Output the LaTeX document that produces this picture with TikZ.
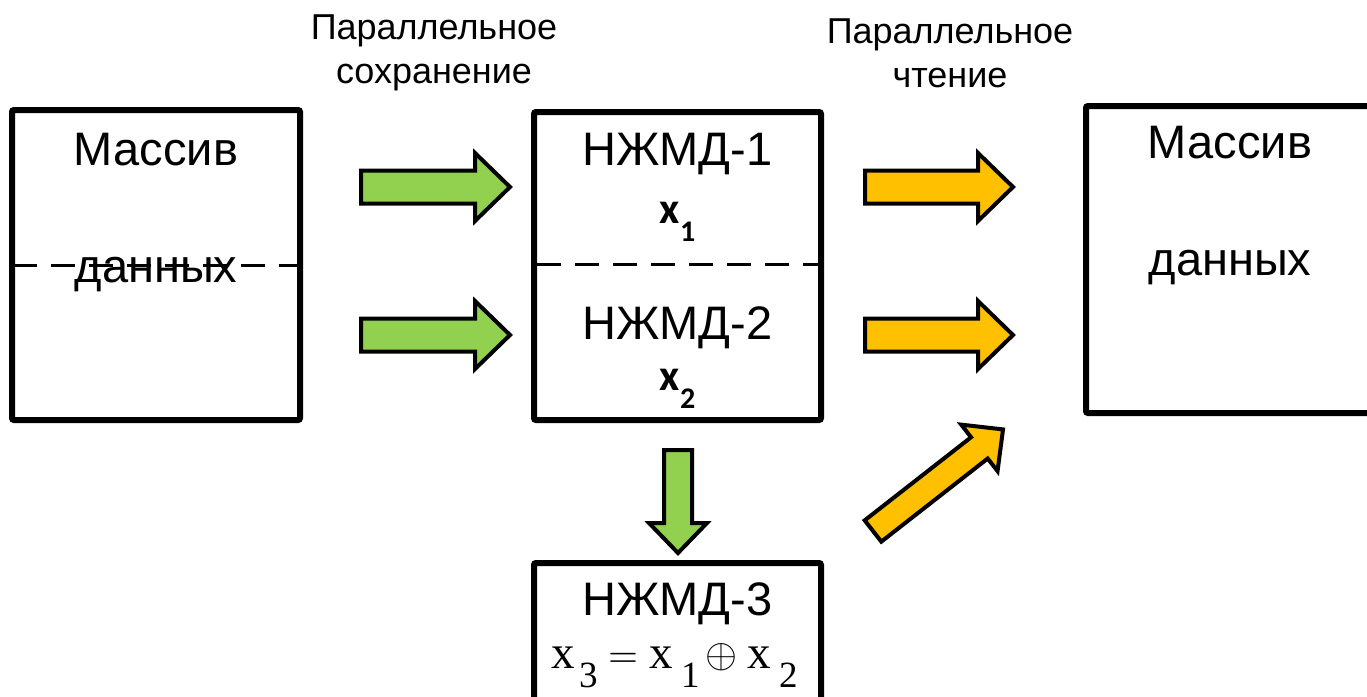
\documentclass[tikz,border=0pt]{standalone}
\usepackage{fontspec}
\usepackage{graphicx}
\setmainfont{Liberation Sans}
\newfontfamily\calib{Carlito}
\newfontfamily\tms{Liberation Serif}
\definecolor{grn}{HTML}{92D050}
\definecolor{org}{HTML}{FFC000}
\newcommand\blkarrow[8]{%
\begin{scope}[shift={(#1,#2)},rotate=#3]
\draw[arrowline,fill=#8] (0,-#5) -- ({#4-#7},-#5) -- ({#4-#7},-#6) -- (#4,0) -- ({#4-#7},#6) -- ({#4-#7},#5) -- (0,#5) -- cycle;
\end{scope}}
\tikzset{
  box/.style={draw,line width=6pt,rounded corners=2pt,inner sep=0pt},
  arrowline/.style={draw=black,line width=4pt,line join=miter},
  divline/.style={line width=3pt,dash pattern=on 24pt off 14pt},
  big/.style={font=\fontsize{47}{50}\selectfont,inner sep=0pt,anchor=base},
  small/.style={font=\fontsize{36}{44}\selectfont,inner sep=0pt,align=center},
  fm/.style={font=\tms\fontsize{47}{47}\selectfont,inner sep=0pt,anchor=base west},
  fs/.style={font=\tms\fontsize{37}{37}\selectfont,inner sep=0pt,anchor=base west},
}
\begin{document}
\begin{tikzpicture}[x=1pt,y=-1pt]
\clip (0,0) rectangle (1367,696);
\fill[white] (0,0) rectangle (1367,696);
% boxes
\node[box,minimum width=288pt,minimum height=310pt] (src) at (156,265) {};
\node[box,minimum width=287pt,minimum height=308pt] (disk) at (677.5,266) {};
\node[box,minimum width=294pt,minimum height=307pt] (dst) at (1233,259.5) {};
\node[box,minimum width=287pt,minimum height=157pt] (par) at (677.5,641.5) {};
% dashed dividers
\coordinate (sl) at (13,265);
\coordinate (sr) at (300,265);
\coordinate (dl) at (537,264);
\coordinate (dr) at (821,264);
% texts
\node[big] (t1) at (156,165) {Массив};
\node[big] (t2) at (156,282) {данных};
\draw[divline] (sl) -- (sr);
\draw[divline] (dl) -- (dr);
\node[big] (t3) at (677.5,165) {НЖМД-1};
\node[big] (t4) at (677.5,339) {НЖМД-2};
\node[inner sep=0pt,anchor=base] (x1) at (677.5,223) {\calib\bfseries\fontsize{44}{44}\selectfont x\raisebox{-18pt}{\fontsize{30}{30}\selectfont 1}};
\node[inner sep=0pt,anchor=base] (x2) at (677.5,390) {\calib\bfseries\fontsize{44}{44}\selectfont x\raisebox{-18pt}{\fontsize{30}{30}\selectfont 2}};
\node[big] (t5) at (1230,158) {Массив};
\node[big] (t6) at (1230,275) {данных};
\node[big] (t7) at (677.5,615) {НЖМД-3};
% formula
\node[fm] (f1) at (551,668) {x};
\node[fs] (f2) at (579,687) {3};
\node[inner sep=0pt] (f3) at (623,660.5) {\resizebox{30pt}{!}{$=$}};
\node[fm] (f4) at (649,668) {x};
\node[fs] (f5) at (681,687) {1};
\node[inner sep=0pt] (f6) at (721,657) {\resizebox{32pt}{!}{$\oplus$}};
\node[fm] (f7) at (747,668) {x};
\node[fs] (f8) at (779,687) {2};
\node[small] (l1) at (434,53) {Параллельное\\сохранение};
\node[small] (l2) at (950,53) {Параллельное\\чтение};
% block arrows
\blkarrow{361}{187}{0}{149}{16.5}{34}{35}{grn}
\blkarrow{361}{335}{0}{149}{16.5}{34}{35}{grn}
\blkarrow{865}{187}{0}{148}{16.5}{34}{35}{org}
\blkarrow{865}{335}{0}{148}{16.5}{34}{35}{org}
\blkarrow{873}{531}{38}{165}{13.5}{29.5}{30}{org}
\blkarrow{678}{450}{-90}{103}{14}{29}{30}{grn}
\end{tikzpicture}
\end{document}
